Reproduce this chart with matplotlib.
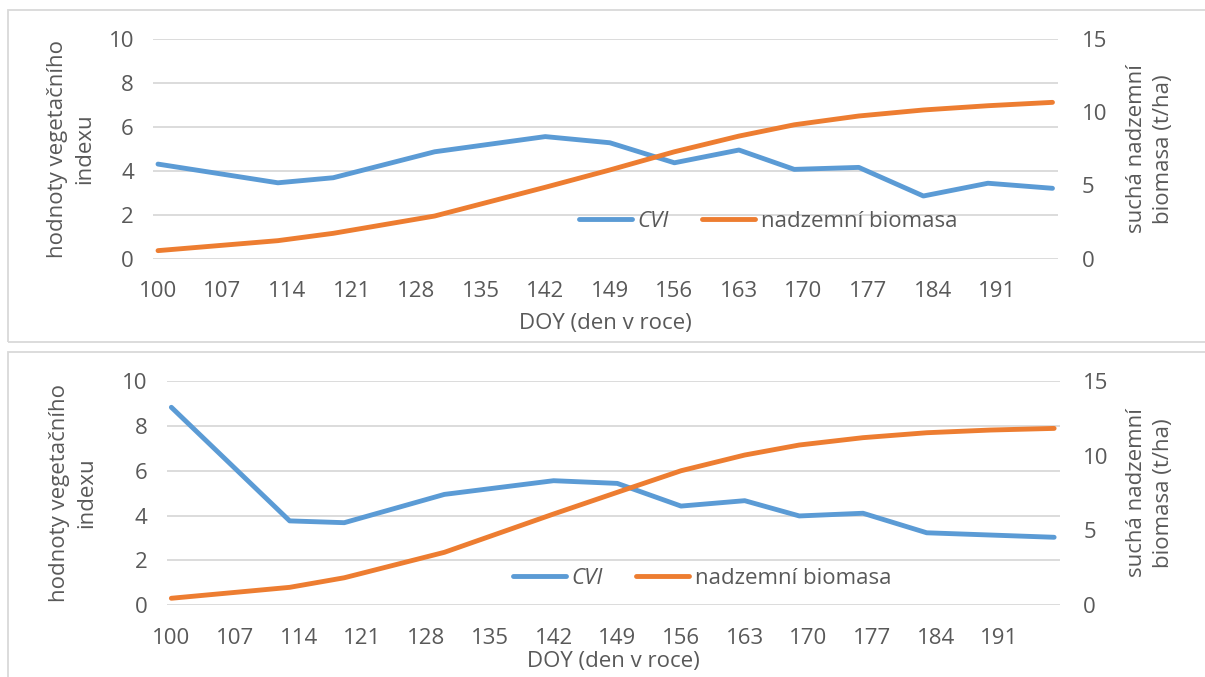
import matplotlib
matplotlib.use('Agg')
import matplotlib.pyplot as plt
from matplotlib.patches import Rectangle

plt.rcParams['font.family'] = ['Open Sans', 'DejaVu Sans']

# day of year of the measurements
doy = [100, 113, 119, 130, 142, 149, 156, 163, 169, 176, 183, 190, 197]
xticks = list(range(100, 192, 7))

# top panel
cvi_1 = [4.30, 3.45, 3.68, 4.86, 5.55, 5.27, 4.36, 4.94, 4.06, 4.15, 2.85, 3.43, 3.20]
bio_1 = [0.55, 1.23, 1.73, 2.91, 4.87, 6.05, 7.29, 8.36, 9.13, 9.73, 10.14, 10.43, 10.66]
# bottom panel
cvi_2 = [8.82, 3.76, 3.68, 4.94, 5.55, 5.43, 4.42, 4.66, 3.98, 4.10, 3.23, 3.13, 3.03]
bio_2 = [0.47, 1.20, 1.84, 3.54, 6.10, 7.55, 8.99, 10.04, 10.71, 11.20, 11.53, 11.71, 11.82]

blue = '#5B9BD5'
orange = '#ED7D31'
grid = '#D9D9D9'
txt = '#595959'
fs = 16

W, H = 1205, 677
fig = plt.figure(figsize=(W / 100, H / 100), dpi=100)


def px(x0, y0, x1, y1):
    # pixel box -> figure fraction [left, bottom, width, height]
    return [x0 / W, 1 - y1 / H, (x1 - x0) / W, (y1 - y0) / H]


def panel(box, cvi, bio, ylab_x, xlab_y, leg_xy):
    ax = fig.add_axes(px(*box))
    ax.plot(doy, cvi, color=blue, lw=3.5, solid_capstyle='round', label='CVI', zorder=3)
    ax.set_xlim(99.5, 197.6)
    ax.set_ylim(0, 10)
    ax.set_yticks(range(0, 11, 2))
    ax.set_xticks(xticks)
    ax.grid(axis='y', color=grid, lw=1.3)
    ax.set_axisbelow(True)
    for s in ax.spines.values():
        s.set_visible(False)
    ax.tick_params(axis='y', length=0, pad=14, labelsize=fs, labelcolor=txt)
    ax.tick_params(axis='x', length=0, pad=16, labelsize=fs, labelcolor=txt)
    ax.set_xlabel('DOY (den v roce)', fontsize=fs, color=txt, labelpad=0)

    ax2 = ax.twinx()
    ax2.plot(doy, bio, color=orange, lw=3.5, solid_capstyle='round', label='nadzemní biomasa', zorder=3)
    ax2.set_ylim(0, 15)
    ax2.set_yticks(range(0, 16, 5))
    for s in ax2.spines.values():
        s.set_visible(False)
    ax2.tick_params(axis='y', length=0, pad=17, labelsize=fs, labelcolor=txt)

    ymid = (box[1] + box[3]) / 2
    fig.text(ylab_x[0] / W, 1 - ymid / H, 'hodnoty vegetačního\nindexu', rotation=90,
             ha='center', va='center', multialignment='center', fontsize=fs, color=txt,
             linespacing=1.35)
    fig.text(ylab_x[1] / W, 1 - ymid / H, 'suchá nadzemní\nbiomasa (t/ha)', rotation=90,
             ha='center', va='center', multialignment='center', fontsize=fs, color=txt,
             linespacing=1.35)
    ax.xaxis.set_label_coords(0.5, -(xlab_y - box[3]) / (box[3] - box[1]))
    ax.xaxis.label.set_va('center')

    h1, l1 = ax.get_legend_handles_labels()
    h2, l2 = ax2.get_legend_handles_labels()
    leg = fig.legend(h1 + h2, l1 + l2, loc='center', ncol=2, frameon=False,
                     bbox_to_anchor=(leg_xy[0] / W, 1 - leg_xy[1] / H),
                     fontsize=fs, handlelength=2.4, handletextpad=0.25, columnspacing=1.5)
    for t in leg.get_texts():
        t.set_color(txt)
    leg.get_texts()[0].set_style('italic')
    return ax


panel((153.4, 38.7, 1058, 258.7), cvi_1, bio_1, (71, 1150), 323, (768, 221.5))
panel((166.8, 380.8, 1059.6, 605.3), cvi_2, bio_2, (73, 1150), 662, (702, 578.5))

# chart frames
for y0, y1 in [(10, 341.7), (351.7, 700)]:
    fig.add_artist(Rectangle((8 / W, 1 - y1 / H), 1.05 - 8 / W, (y1 - y0) / H,
                             transform=fig.transFigure, fill=False, ec=grid, lw=1.3,
                             clip_on=False))

fig.savefig('out.png', dpi=100)
